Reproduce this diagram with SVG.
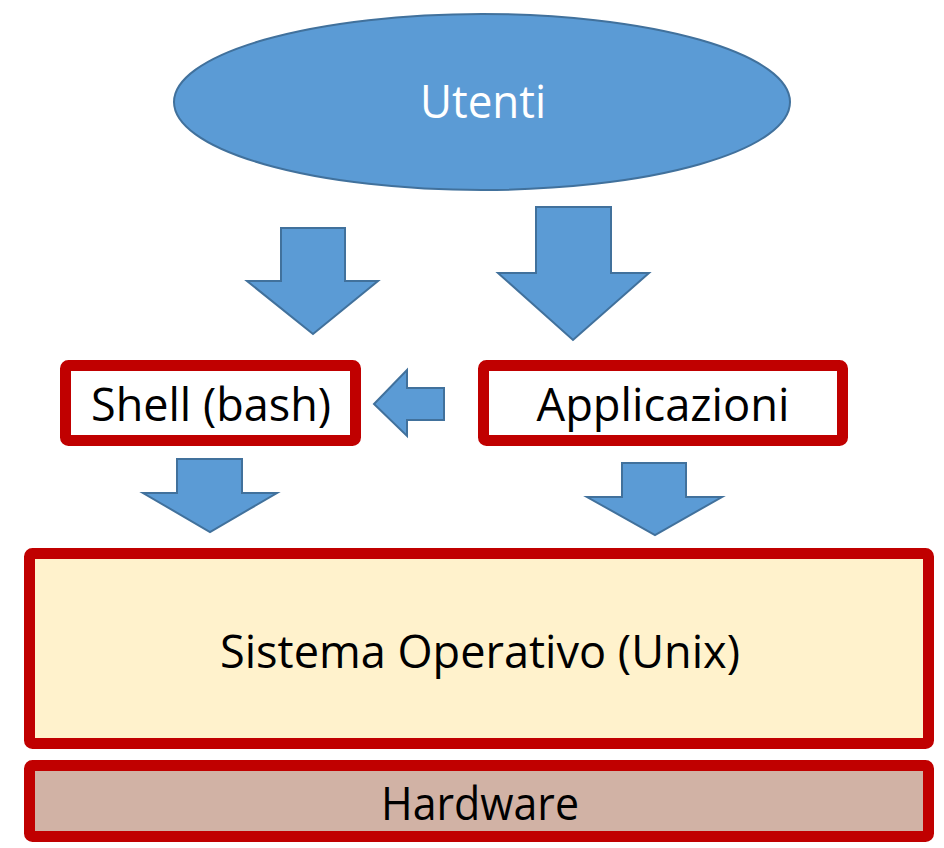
<svg xmlns="http://www.w3.org/2000/svg" width="944" height="848" viewBox="0 0 944 848">
<style>
.arrow{fill:#5B9BD5;stroke:#41719C;stroke-width:2;stroke-linejoin:miter}
.box{stroke:#C00000;stroke-width:11}
.lbl{font-family:"Open Sans","Noto Sans","DejaVu Sans",sans-serif;font-size:46px;text-anchor:middle;fill:#000}
</style>
<rect width="944" height="848" fill="#fff"/>
<g id="utenti">
<ellipse cx="482" cy="102" rx="308" ry="88" fill="#5B9BD5" stroke="#41719C" stroke-width="2"/>
<text class="lbl" x="483" y="118" textLength="126" lengthAdjust="spacingAndGlyphs" style="fill:#fff">Utenti</text>
</g>
<g id="shell">
<rect class="box" x="65.5" y="365.5" width="290" height="75" rx="3" fill="#fff"/>
<text class="lbl" x="211" y="421" textLength="240" lengthAdjust="spacingAndGlyphs">Shell (bash)</text>
</g>
<g id="applicazioni">
<rect class="box" x="483.5" y="365.5" width="359" height="75" rx="3" fill="#fff"/>
<text class="lbl" x="663" y="421" textLength="253" lengthAdjust="spacingAndGlyphs">Applicazioni</text>
</g>
<g id="sistema-operativo">
<rect class="box" x="29.5" y="553.5" width="899" height="190" rx="3" fill="#FFF2CC"/>
<text class="lbl" x="480" y="668" textLength="520" lengthAdjust="spacingAndGlyphs">Sistema Operativo (Unix)</text>
</g>
<g id="hardware">
<rect class="box" x="29.5" y="765.5" width="899" height="71" rx="3" fill="#D1B2A5"/>
<text class="lbl" x="480" y="820" textLength="198" lengthAdjust="spacingAndGlyphs">Hardware</text>
</g>
<g id="connectors">
<polygon class="arrow" points="281,228 345,228 345,281 378,281 313,334 247,281 281,281"/>
<polygon class="arrow" points="536,207 611,207 611,273 649,273 573,340 498,273 536,273"/>
<polygon class="arrow" points="444,388 444,420 407,420 407,436 374,404 407,370 407,388"/>
<polygon class="arrow" points="177,459 242,459 242,493 277,493 210,532 143,493 177,493"/>
<polygon class="arrow" points="622,463 686,463 686,497 722,497 655,535 587,497 622,497"/>
</g>
</svg>
